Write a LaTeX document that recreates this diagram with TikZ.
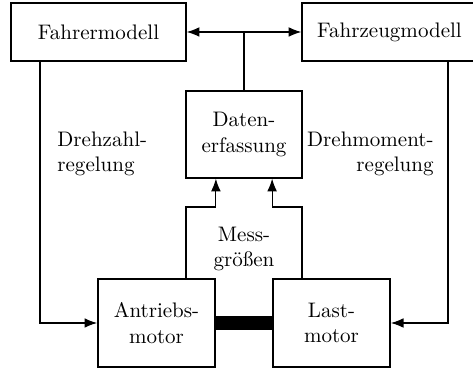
\documentclass[tikz,border=0pt]{standalone}
\usetikzlibrary{arrows.meta}
\begin{document}
\begin{tikzpicture}[x=0.4757pt,y=-0.4757pt,
  >={Latex[length=6pt,width=4.6pt]},
  box/.style={draw,rectangle,inner sep=0pt,align=center,line width=0.6pt},
  topbox/.style={box,minimum width=83.3pt,minimum height=27.6pt},
  databox/.style={box,minimum width=55.2pt,minimum height=41.4pt},
  motorbox/.style={box,minimum width=55.7pt,minimum height=41.9pt,line width=0.8pt},
  conn/.style={line width=0.55pt},
  lbl/.style={inner sep=0pt}]
\useasboundingbox (0,0) rectangle (473,369);
\node[topbox] (fm) at (98.5,32) {Fahrermodell};
\node[topbox] (fz) at (389.5,32) {Fahrzeugmodell};
\node[databox] (de) at (244,134.5) {Daten-\\erfassung};
\node[motorbox] (am) at (156.5,323) {Antriebs-\\motor};
\node[motorbox] (lm) at (331.5,323) {Last-\\motor};
\coordinate (L) at (40,323);
\coordinate (R) at (448,323);
\coordinate (m1) at (186,207);
\coordinate (m2) at (302,207);
\draw[conn,<->] (fm.east) -- (fz.west);
\draw[conn] (de.north) -- (de.north |- fm.east);
\draw[conn,->] (fm.south -| L) -- (L) -- (am.west);
\draw[conn,->] (fz.south -| R) -- (R) -- (lm.east);
\draw[conn,->] (am.north -| m1) -- (m1) -| (de.south -| am.east);
\draw[conn,->] (lm.north -| m2) -- (m2) -| (de.south -| lm.west);
\draw[line width=7.1pt] (am.east) -- (lm.west);
\node[lbl,anchor=west,align=left] (dz) at (57,154) {Drehzahl-\\regelung};
\node[lbl,anchor=east,align=right] (dm) at (434,154) {Drehmoment-\\regelung};
\node[lbl,align=center] (mg) at (244,249) {Mess-\\größen};
\end{tikzpicture}
\end{document}
